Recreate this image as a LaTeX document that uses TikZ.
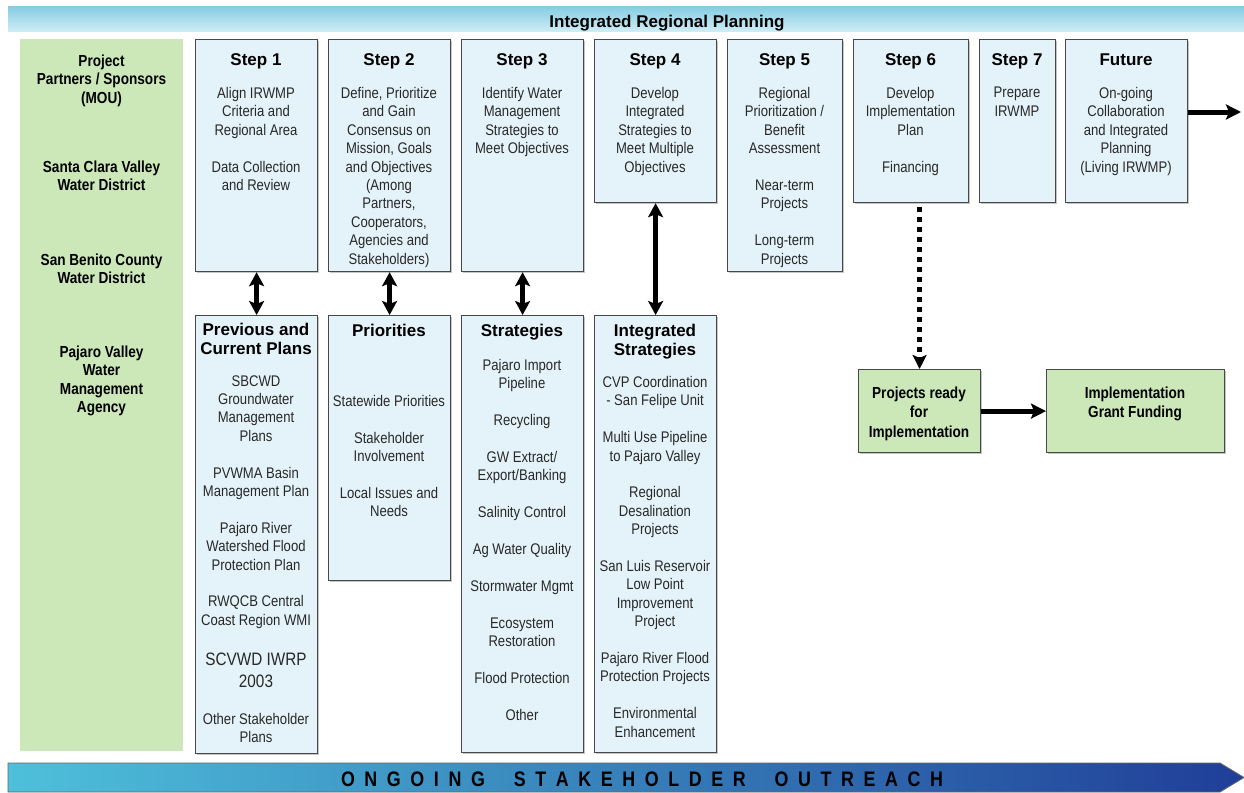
\documentclass[tikz,border=0pt]{standalone}
\usepackage{fontspec}
\setmainfont{Liberation Sans}[FakeStretch=0.85]
\newfontfamily\headfont{Liberation Sans}
\usetikzlibrary{arrows.meta,shadows}
\definecolor{stepfill}{RGB}{228,243,249}
\definecolor{boxline}{RGB}{72,72,72}
\definecolor{partnerfill}{RGB}{205,232,184}
\definecolor{bannertop}{RGB}{135,205,226}
\definecolor{bannerbot}{RGB}{208,238,246}
\definecolor{bandleft}{RGB}{78,192,219}
\definecolor{bandmid}{RGB}{70,172,214}
\definecolor{bandright}{RGB}{32,62,152}
\definecolor{bodytext}{RGB}{40,40,40}
% one empty line between groups of text
\newcommand\bgap{\\[18.4pt]}
\begin{document}
\begin{tikzpicture}[x=1pt,y=-1pt,
    stepbox/.style={draw=boxline, line width=1.2pt, fill=stepfill, inner sep=0pt,
        anchor=north west, drop shadow={shadow xshift=1.3pt,shadow yshift=-1.3pt,fill=black!45}},
    readybox/.style={stepbox, fill=partnerfill},
    % texts are placed at the baseline of their first line
    firstline/.style={align=center, anchor=north, inner sep=0pt, yshift=#1, execute at begin node=\strut},
    head/.style={font=\headfont\bfseries\fontsize{17}{19}\selectfont, firstline=13.3pt},
    body/.style={font=\fontsize{15.4}{18.4}\selectfont, text=bodytext, firstline=10.4pt},
    partner/.style={font=\bfseries\fontsize{16}{18.5}\selectfont, firstline=10.5pt},
    ready/.style={font=\bfseries\fontsize{16}{19.5}\selectfont, firstline=11.4pt},
    tip/.style={Stealth[length=14pt,width=15pt,inset=3pt]},
    twoway/.style={{Stealth[length=14pt,width=15pt,inset=3pt]}-{Stealth[length=14pt,width=15pt,inset=3pt]}, line width=5pt},
    oneway/.style={-{Stealth[length=15pt,width=15pt,inset=3pt]}, line width=5pt},
]
\useasboundingbox (0,0) rectangle (1244,792);

% banner on top
\shade[top color=bannertop, bottom color=bannerbot] (8,7) rectangle (1244,32);
\node[head] (title) at (667,27) {Integrated Regional Planning};

% partners column
\node[fill=partnerfill, minimum width=163pt, minimum height=712pt, anchor=north west, inner sep=0pt] (col) at (20,39) {};
\node[partner] (p1) at (101.5,65) {Project\\Partners / Sponsors\\(MOU)};
\node[partner] (p2) at (101.5,171) {Santa Clara Valley\\Water District};
\node[partner] (p3) at (101.5,264) {San Benito County\\Water District};
\node[partner] (p4) at (101.5,356) {Pajaro Valley\\Water\\Management\\Agency};

% steps
\node[stepbox, minimum width=122pt, minimum height=232pt] (s1) at (195,39) {};
\node[stepbox, minimum width=122pt, minimum height=232pt] (s2) at (328,39) {};
\node[stepbox, minimum width=122pt, minimum height=232pt] (s3) at (461,39) {};
\node[stepbox, minimum width=122pt, minimum height=163pt] (s4) at (594,39) {};
\node[stepbox, minimum width=115pt, minimum height=232pt] (s5) at (727,39) {};
\node[stepbox, minimum width=115pt, minimum height=163pt] (s6) at (853,39) {};
\node[stepbox, minimum width=76pt, minimum height=163pt] (s7) at (979,39) {};
\node[stepbox, minimum width=122pt, minimum height=163pt] (fut) at (1065,39) {};

\node[head] (s1h) at (256,65) {Step 1};
\node[head] (s2h) at (389,65) {Step 2};
\node[head] (s3h) at (522,65) {Step 3};
\node[head] (s4h) at (655,65) {Step 4};
\node[head] (s5h) at (784.5,65) {Step 5};
\node[head] (s6h) at (910.5,65) {Step 6};
\node[head] (s7h) at (1017,65) {Step 7};
\node[head] (futh) at (1126,65) {Future};

\node[body] (s1b) at (256,97.5) {Align IRWMP\\Criteria and\\Regional Area\bgap Data Collection\\and Review};
\node[body] (s2b) at (389,97.5) {Define, Prioritize\\and Gain\\Consensus on\\Mission, Goals\\and Objectives\\(Among\\Partners,\\Cooperators,\\Agencies and\\Stakeholders)};
\node[body] (s3b) at (522,97.5) {Identify Water\\Management\\Strategies to\\Meet Objectives};
\node[body] (s4b) at (655,97.5) {Develop\\Integrated\\Strategies to\\Meet Multiple\\Objectives};
\node[body] (s5b) at (784.5,97.5) {Regional\\Prioritization /\\Benefit\\Assessment\bgap Near-term\\Projects\bgap Long-term\\Projects};
\node[body] (s6b) at (910.5,97.5) {Develop\\Implementation\\Plan\bgap Financing};
\node[body] (s7b) at (1017,97.5) {Prepare\\IRWMP};
\node[body] (futb) at (1126,97.5) {On-going\\Collaboration\\and Integrated\\Planning\\(Living IRWMP)};

% lower boxes
\node[stepbox, minimum width=122pt, minimum height=438pt] (pv) at (195,315) {};
\node[stepbox, minimum width=122pt, minimum height=265pt] (pri) at (328,315) {};
\node[stepbox, minimum width=122pt, minimum height=437pt] (str) at (461,315) {};
\node[stepbox, minimum width=122pt, minimum height=437pt] (ist) at (594,315) {};

\node[head] (pvh) at (256,336) {Previous and\\Current Plans};
\node[head] (prih) at (389,336) {Priorities};
\node[head] (strh) at (522,336) {Strategies};
\node[head] (isth) at (655,337) {Integrated\\Strategies};

\node[body] (pvb) at (256,385.5) {SBCWD\\Groundwater\\Management\\Plans\bgap PVWMA Basin\\Management Plan\bgap Pajaro River\\Watershed Flood\\Protection Plan\bgap RWQCB Central\\Coast Region WMI\\[21.6pt]{\fontsize{18}{22}\selectfont SCVWD IWRP}\\[3.6pt]{\fontsize{18}{22}\selectfont 2003}\bgap Other Stakeholder\\Plans};
\node[body] (prib) at (389,405.5) {Statewide Priorities\bgap Stakeholder\\Involvement\bgap Local Issues and\\Needs};
\node[body] (strb) at (522,369.5) {Pajaro Import\\Pipeline\bgap Recycling\bgap GW Extract/\\Export/Banking\bgap Salinity Control\bgap Ag Water Quality\bgap Stormwater Mgmt\bgap Ecosystem\\Restoration\bgap Flood Protection\bgap Other};
\node[body] (istb) at (655,386.5) {CVP Coordination\\- San Felipe Unit\bgap Multi Use Pipeline\\to Pajaro Valley\bgap Regional\\Desalination\\Projects\bgap San Luis Reservoir\\Low Point\\Improvement\\Project\bgap Pajaro River Flood\\Protection Projects\bgap Environmental\\Enhancement};

% implementation
\node[readybox, minimum width=122pt, minimum height=83pt] (rdy) at (858,369) {};
\node[readybox, minimum width=178pt, minimum height=83pt] (gf) at (1046,369) {};
\node[ready] (rdyt) at (919,398) {Projects ready\\for\\Implementation};
\node[ready] (gft) at (1135,398) {Implementation\\Grant Funding};

% connectors
\draw[twoway] (s1.south) -- (pv.north);
\draw[twoway] (s2.south) -- (pri.north);
\draw[twoway] (s3.south) -- (str.north);
\draw[twoway] (s4.south) -- (ist.north);
\draw[-{Stealth[length=14pt,width=14pt,inset=3pt]}, line width=5pt, dash pattern=on 5pt off 5pt, shorten <=4pt]
    (rdy.north |- s6.south) -- (rdy.north);
\draw[oneway] (rdy.east) -- (gf.west);
\coordinate (ahead) at (1241,112);
\draw[oneway] (fut.east |- ahead) -- (ahead);

% outreach band
\shade[left color=bandleft, middle color=bandmid, right color=bandright, draw=black!60, line width=.8pt]
    (8,763) -- (1220,763) -- (1244,777.5) -- (1220,792) -- (8,792) -- cycle;
\node[font=\bfseries\fontsize{21}{24}\selectfont, anchor=base, inner sep=0pt] (outreach) at (642,786.5)
    {\makebox[602pt]{O\hfill N\hfill G\hfill O\hfill I\hfill N\hfill G\hfill\hfill\hfill
     S\hfill T\hfill A\hfill K\hfill E\hfill H\hfill O\hfill L\hfill D\hfill E\hfill R\hfill\hfill\hfill
     O\hfill U\hfill T\hfill R\hfill E\hfill A\hfill C\hfill H}};
\end{tikzpicture}
\end{document}
